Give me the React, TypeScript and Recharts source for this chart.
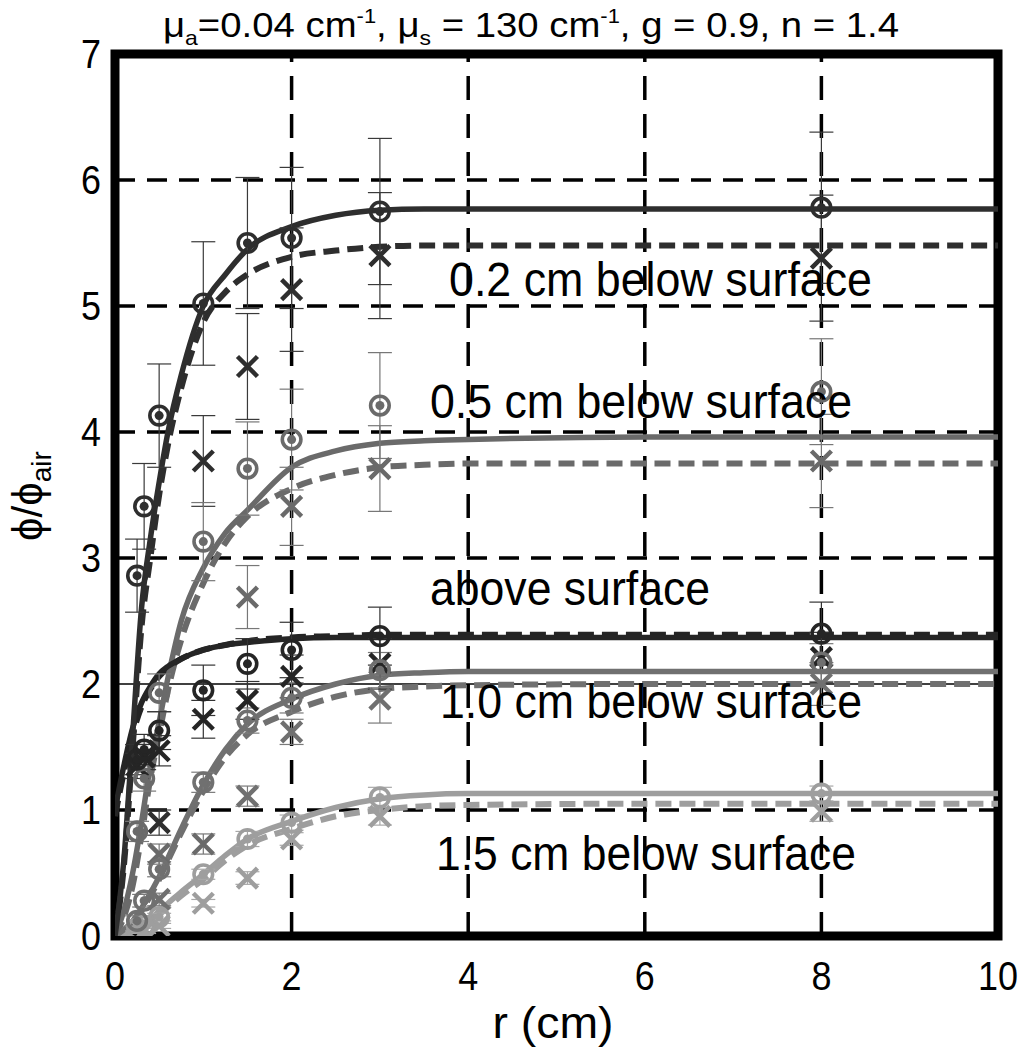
import React from "react";
import {
  ComposedChart,
  Line,
  Scatter,
  XAxis,
  YAxis,
  ReferenceLine,
  ReferenceArea,
  ErrorBar,
} from "recharts";

// ---------- data ----------
const xTicks = [0, 2, 4, 6, 8, 10];
const yTicks = [0, 1, 2, 3, 4, 5, 6, 7];
const gridX = [2, 4, 6, 8];
const gridY = [1, 3, 4, 5, 6];

// measurement radii (cm)
const rMeas = [0.25, 0.33, 0.5, 1, 1.5, 2, 3, 8];

// 0.2 cm below surface
const circ02 = [2.86, 3.41, 4.13, 5.02, 5.5, 5.54, 5.75, 5.78];
const circErr02 = [0.29, 0.34, 0.41, 0.49, 0.52, 0.56, 0.58, 0.6];
const cross02 = [null, null, 0.9, 3.77, 4.52, 5.13, 5.4, 5.38];
const crossErr02 = [null, null, 0.1, 0.36, 0.42, 0.49, 0.5, 0.5];

// 0.5 cm below surface
const circ05 = [0.83, 1.25, 1.93, 3.13, 3.71, 3.94, 4.21, 4.32];
const circErr05 = [0.08, 0.1, 0.15, 0.31, 0.37, 0.4, 0.42, 0.42];
const cross05 = [null, null, 0.65, 0.73, 2.69, 3.41, 3.71, 3.77];
const crossErr05 = [null, null, 0.08, 0.08, 0.25, 0.31, 0.34, 0.37];

// above surface
const circAb = [1.4, 1.48, 1.63, 1.95, 2.16, 2.27, 2.38, 2.4];
const circErrAb = [0.12, 0.12, 0.15, 0.2, 0.2, 0.22, 0.23, 0.25];
const crossAb = [1.35, 1.42, 1.47, 1.72, 1.87, 2.06, 2.16, 2.21];
const crossErrAb = [0.1, 0.1, 0.12, 0.15, 0.15, 0.17, 0.2, 0.2];

// 1.0 cm below surface
const circ10 = [0.12, 0.28, 0.53, 1.22, 1.71, 1.89, 2.11, 2.17];
const circErr10 = [0.04, 0.05, 0.06, 0.08, 0.1, 0.12, 0.14, 0.15];
const cross10 = [null, null, 0.29, null, 1.11, 1.62, 1.88, 2.0];
const crossErr10 = [null, null, 0.05, null, 0.08, 0.1, 0.19, 0.17];

// 1.5 cm below surface
const circ15 = [0.06, 0.08, 0.15, 0.49, 0.77, 0.9, 1.1, 1.13];
const circErr15 = [0.02, 0.02, 0.03, 0.04, 0.06, 0.06, 0.08, 0.06];
const cross15 = [null, 0.04, 0.08, 0.26, 0.46, 0.77, 0.95, 0.99];
const crossErr15 = [null, 0.02, 0.02, 0.03, 0.05, 0.05, 0.07, 0.08];

// model curves
const rCurve = [0, 0.1, 0.2, 0.3, 0.4, 0.5, 0.6, 0.75, 1, 1.25, 1.5, 2, 2.5, 3, 3.5, 4, 6, 8, 10];
const solid02 = [0, 0.6, 1.6, 2.6, 3.15, 3.6, 4.0, 4.45, 5.0, 5.25, 5.45, 5.63, 5.72, 5.76, 5.77, 5.77, 5.77, 5.77, 5.77];
const dashed02 = [0, 0.55, 1.5, 2.45, 3.0, 3.5, 3.9, 4.35, 4.87, 5.11, 5.25, 5.39, 5.44, 5.47, 5.48, 5.48, 5.48, 5.48, 5.48];
const solid05 = [0, 0.2, 0.5, 0.9, 1.35, 1.7, 2.05, 2.5, 2.92, 3.2, 3.38, 3.72, 3.85, 3.91, 3.93, 3.94, 3.96, 3.96, 3.96];
const dashed05 = [0, 0.15, 0.4, 0.8, 1.25, 1.6, 1.95, 2.35, 2.8, 3.12, 3.33, 3.55, 3.66, 3.72, 3.74, 3.75, 3.75, 3.75, 3.75];
const solidAb = [1.0, 1.35, 1.65, 1.85, 1.98, 2.08, 2.14, 2.2, 2.27, 2.31, 2.33, 2.36, 2.37, 2.37, 2.37, 2.37, 2.37, 2.37, 2.37];
const dashedAb = [0.95, 1.3, 1.6, 1.82, 1.96, 2.06, 2.13, 2.2, 2.27, 2.31, 2.34, 2.37, 2.38, 2.39, 2.39, 2.39, 2.39, 2.39, 2.39];
const solid10 = [0, 0.05, 0.12, 0.22, 0.34, 0.47, 0.62, 0.85, 1.2, 1.48, 1.68, 1.88, 2.0, 2.07, 2.09, 2.1, 2.1, 2.1, 2.1];
const dashed10 = [0, 0.04, 0.1, 0.2, 0.32, 0.45, 0.6, 0.82, 1.15, 1.42, 1.6, 1.78, 1.9, 1.96, 1.98, 1.99, 2.0, 2.0, 2.0];
const solid15 = [0, 0.02, 0.04, 0.08, 0.13, 0.2, 0.26, 0.35, 0.49, 0.64, 0.77, 0.91, 1.02, 1.09, 1.12, 1.13, 1.13, 1.13, 1.13];
const dashed15 = [0, 0.01, 0.03, 0.06, 0.11, 0.17, 0.23, 0.32, 0.45, 0.6, 0.72, 0.85, 0.95, 1.0, 1.03, 1.04, 1.05, 1.05, 1.05];

const labels = ["0.2 cm below surface", "0.5 cm below surface", "above surface", "1.0 cm below surface", "1.5 cm below surface"];

// ---------- helpers ----------
const FONT = "'Liberation Sans', Arial, sans-serif";

const toPts = (ys: (number | null)[], es: (number | null)[]) =>
  rMeas
    .map((r, i) => (ys[i] == null ? null : { r, v: ys[i] as number, e: (es[i] ?? 0) as number }))
    .filter((p) => p !== null) as { r: number; v: number; e: number }[];

const toCurve = (ys: number[]) => rCurve.map((r, i) => ({ r, v: ys[i] }));

const groups = [
  { key: "15", color: "#9e9e9e", err: "#a8a8a8", solid: solid15, dashed: dashed15, circ: toPts(circ15, circErr15), cross: toPts(cross15, crossErr15) },
  { key: "10", color: "#707070", err: "#7a7a7a", solid: solid10, dashed: dashed10, circ: toPts(circ10, circErr10), cross: toPts(cross10, crossErr10) },
  { key: "05", color: "#6a6a6a", err: "#777777", solid: solid05, dashed: dashed05, circ: toPts(circ05, circErr05), cross: toPts(cross05, crossErr05) },
  { key: "ab", color: "#252525", err: "#333333", solid: solidAb, dashed: dashedAb, circ: toPts(circAb, circErrAb), cross: toPts(crossAb, crossErrAb) },
  { key: "02", color: "#2e2e2e", err: "#3a3a3a", solid: solid02, dashed: dashed02, circ: toPts(circ02, circErr02), cross: toPts(cross02, crossErr02) },
];

const ringShape = (color: string) => (props: any) => {
  const { cx, cy } = props;
  if (cx == null || cy == null) return <g />;
  return (
    <g>
      <circle cx={cx} cy={cy} r={9.3} fill="none" stroke={color} strokeWidth={3.6} />
      <circle cx={cx} cy={cy} r={4.5} fill={color} />
    </g>
  );
};

const crossShape = (color: string) => (props: any) => {
  const { cx, cy } = props;
  if (cx == null || cy == null) return <g />;
  const h = 10;
  return (
    <path
      d={`M${cx - h},${cy - h}L${cx + h},${cy + h}M${cx - h},${cy + h}L${cx + h},${cy - h}`}
      stroke={color}
      strokeWidth={4.5}
      fill="none"
    />
  );
};

const XTick = (props: any) => {
  const { x, y, payload } = props;
  const s = String(payload.value);
  return (
    <text x={x} y={y} dy="0.71em" textAnchor="middle" fontSize={40} fill="#000" fontFamily={FONT}
      textLength={20 * s.length} lengthAdjust="spacingAndGlyphs">
      {s}
    </text>
  );
};

const YTick = (props: any) => {
  const { x, y, payload } = props;
  const s = String(payload.value);
  return (
    <text x={x} y={y} dy="0.355em" textAnchor="end" fontSize={40} fill="#000" fontFamily={FONT}
      textLength={20 * s.length} lengthAdjust="spacingAndGlyphs">
      {s}
    </text>
  );
};

// annotation placement (text box, page pixels)
const labelBoxes = [
  { x: 449, y: 296, w: 423 },
  { x: 430, y: 418, w: 422 },
  { x: 430, y: 605, w: 280 },
  { x: 440, y: 718, w: 422 },
  { x: 436, y: 870, w: 420 },
];

export default function App() {
  return (
    <div style={{ position: "relative", width: 1022, height: 1050, overflow: "hidden", background: "#fff" }}>
      <style>{`body{margin:0;overflow:hidden;background:#fff}`}</style>
      <ComposedChart width={1022} height={1050} margin={{ top: 54, right: 24, bottom: 0, left: 0 }}>
        <XAxis
          type="number"
          dataKey="r"
          domain={[0, 10]}
          ticks={xTicks}
          allowDataOverflow
          axisLine={false}
          tickLine={false}
          tickSize={6}
          tickMargin={20}
          height={114}
          tick={<XTick />}
        />
        <YAxis
          type="number"
          dataKey="v"
          domain={[0, 7]}
          ticks={yTicks}
          allowDataOverflow
          axisLine={false}
          tickLine={false}
          tickSize={6}
          tickMargin={8}
          width={115}
          tick={<YTick />}
        />
        {gridY.map((v) => (
          <ReferenceLine key={"gy" + v} y={v} stroke="#000" strokeWidth={3.5} strokeDasharray="20 12" />
        ))}
        {gridX.map((v) => (
          <ReferenceLine key={"gx" + v} x={v} stroke="#000" strokeWidth={3.5} strokeDasharray="24 14" />
        ))}
        <ReferenceLine y={2} stroke="#000" strokeWidth={1.4} />

        {groups.map((g) => (
          <Line
            key={"d" + g.key}
            data={toCurve(g.dashed)}
            dataKey="v"
            type="monotone"
            stroke={g.color}
            strokeWidth={6}
            strokeDasharray="16 8"
            dot={false}
            activeDot={false}
            isAnimationActive={false}
          />
        ))}
        {groups.map((g) => (
          <Line
            key={"s" + g.key}
            data={toCurve(g.solid)}
            dataKey="v"
            type="monotone"
            stroke={g.color}
            strokeWidth={5.5}
            dot={false}
            activeDot={false}
            isAnimationActive={false}
          />
        ))}
        {groups.map((g) => (
          <Scatter key={"x" + g.key} data={g.cross} dataKey="v" shape={crossShape(g.color)} isAnimationActive={false}>
            <ErrorBar dataKey="e" direction="y" width={12} stroke={g.err} strokeWidth={1.2} />
          </Scatter>
        ))}
        {groups.map((g) => (
          <Scatter key={"c" + g.key} data={g.circ} dataKey="v" shape={ringShape(g.color)} isAnimationActive={false}>
            <ErrorBar dataKey="e" direction="y" width={12} stroke={g.err} strokeWidth={1.2} />
          </Scatter>
        ))}
        <ReferenceArea x1={0} x2={10} y1={0} y2={7} fill="none" stroke="#000" strokeWidth={9} ifOverflow="visible" />
      </ComposedChart>

      <svg
        width={1022}
        height={1050}
        style={{ position: "absolute", left: 0, top: 0, pointerEvents: "none" }}
        fontFamily={FONT}
      >
        <text x={163} y={37} fontSize={35} fill="#000" textLength={736} lengthAdjust="spacingAndGlyphs">
          <tspan>μ</tspan>
          <tspan fontSize={21} dy={8}>a</tspan>
          <tspan dy={-8}>=0.04 cm</tspan>
          <tspan fontSize={20} dy={-14}>-1</tspan>
          <tspan dy={14}>{", μ"}</tspan>
          <tspan fontSize={21} dy={8}>s</tspan>
          <tspan dy={-8}>{" = 130 cm"}</tspan>
          <tspan fontSize={20} dy={-14}>-1</tspan>
          <tspan dy={14}>{", g = 0.9, n = 1.4"}</tspan>
        </text>
        <text transform="translate(42,496) rotate(-90)" textAnchor="middle" fontSize={42} fill="#000">
          <tspan>ϕ/ϕ</tspan>
          <tspan fontSize={28} dy={9}>air</tspan>
        </text>
        <text x={553} y={1038} textAnchor="middle" fontSize={44} fill="#000" textLength={121} lengthAdjust="spacingAndGlyphs">
          r (cm)
        </text>
        {labels.map((t, i) => (
          <text
            key={t}
            x={labelBoxes[i].x}
            y={labelBoxes[i].y}
            fontSize={48}
            fill="#000"
            textLength={labelBoxes[i].w}
            lengthAdjust="spacingAndGlyphs"
          >
            {t}
          </text>
        ))}
      </svg>
    </div>
  );
}
